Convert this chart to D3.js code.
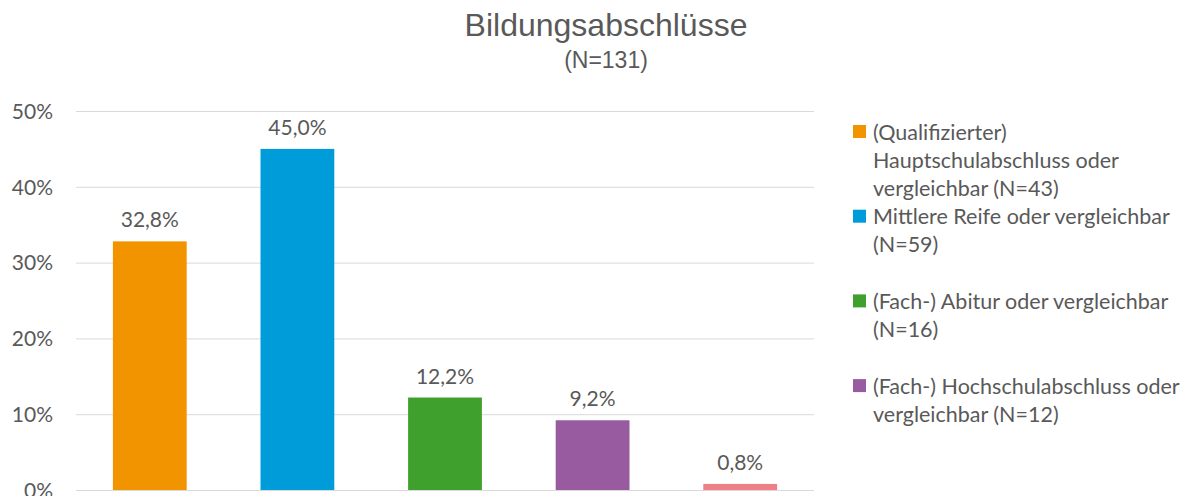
<!DOCTYPE html>
<html>
<head>
<meta charset="utf-8">
<script src="https://cdn.jsdelivr.net/npm/d3@7"></script>
<style>
  body { margin: 0; background: #fff; }
  text { font-family: Lato, "Open Sans", sans-serif; fill: #595959; }
</style>
</head>
<body>
<div id="chart"></div>
<script>
// data
var categories = ["Hauptschulabschluss", "Mittlere Reife", "Abitur", "Hochschulabschluss", "Ohne Abschluss"];
var values = [32.8, 45.0, 12.2, 9.2, 0.8];
var valueLabels = ["32,8%", "45,0%", "12,2%", "9,2%", "0,8%"];
var colors = ["#F29400", "#009CD9", "#40A02E", "#985BA0", "#EE7F86"];
var yTicks = [0, 10, 20, 30, 40, 50];
var legendLines = [
  ["(Qualifizierter)", "Hauptschulabschluss oder", "vergleichbar (N=43)"],
  ["Mittlere Reife oder vergleichbar", "(N=59)"],
  ["(Fach-) Abitur oder vergleichbar", "(N=16)"],
  ["(Fach-) Hochschulabschluss oder", "vergleichbar (N=12)"]
];

var width = 1198, height = 496;
var margin = {top: 111, left: 76, right: 384, bottom: 6};

var svg = d3.select("#chart").append("svg")
    .attr("width", width)
    .attr("height", height);

var x = d3.scaleBand()
    .domain(categories)
    .range([margin.left, width - margin.right])
    .paddingInner(0.5)
    .paddingOuter(0.25);

var y = d3.scaleLinear()
    .domain([0, 50])
    .range([height - margin.bottom, margin.top]);

// title
svg.append("text")
    .attr("x", 606).attr("y", 36)
    .attr("text-anchor", "middle")
    .style("font-family", "'Liberation Sans', Arial, sans-serif")
    .style("font-size", "32px")
    .text("Bildungsabschlüsse");
svg.append("text")
    .attr("x", 606).attr("y", 68)
    .attr("text-anchor", "middle")
    .style("font-family", "'Liberation Sans', Arial, sans-serif")
    .style("font-size", "23px")
    .text("(N=131)");

// gridlines + y axis
var yAxis = d3.axisLeft(y)
    .tickValues(yTicks)
    .tickSize(-(width - margin.right - margin.left))
    .tickPadding(23)
    .tickFormat(function(d) { return d + "%"; });

var gy = svg.append("g")
    .attr("transform", "translate(" + margin.left + ",0)")
    .call(yAxis);
gy.select(".domain").remove();
gy.selectAll(".tick line").attr("stroke", "#d9d9d9").attr("stroke-width", 1);
gy.selectAll(".tick text")
    .style("font-size", "21px")
    .style("font-family", "Lato, sans-serif")
    .attr("fill", "#595959")
    .attr("dy", "0.35em");

// bars
svg.selectAll(".bar")
    .data(values)
    .enter().append("rect")
    .attr("class", "bar")
    .attr("x", function(d, i) { return x(categories[i]); })
    .attr("width", x.bandwidth())
    .attr("y", function(d) { return y(d); })
    .attr("height", function(d) { return y(0) - y(d); })
    .attr("fill", function(d, i) { return colors[i]; });

// value labels
svg.selectAll(".val")
    .data(values)
    .enter().append("text")
    .attr("class", "val")
    .attr("x", function(d, i) { return x(categories[i]) + x.bandwidth() / 2; })
    .attr("y", function(d) { return y(d) - 14; })
    .attr("text-anchor", "middle")
    .style("font-size", "21px")
    .text(function(d, i) { return valueLabels[i]; });

// legend
var legend = svg.selectAll(".legend")
    .data(legendLines)
    .enter().append("g")
    .attr("class", "legend")
    .attr("transform", function(d, i) { return "translate(853," + (132 + i * 84.7) + ")"; });

legend.append("rect")
    .attr("x", 0).attr("y", -7)
    .attr("width", 13).attr("height", 13)
    .attr("fill", function(d, i) { return colors[i]; });

legend.each(function(lines) {
  d3.select(this).selectAll("text")
    .data(lines)
    .enter().append("text")
    .attr("x", 20)
    .attr("y", function(d, j) { return j * 28; })
    .attr("dy", "0.35em")
    .style("font-size", "21.5px")
    .text(function(d) { return d; });
});
</script>
</body>
</html>
